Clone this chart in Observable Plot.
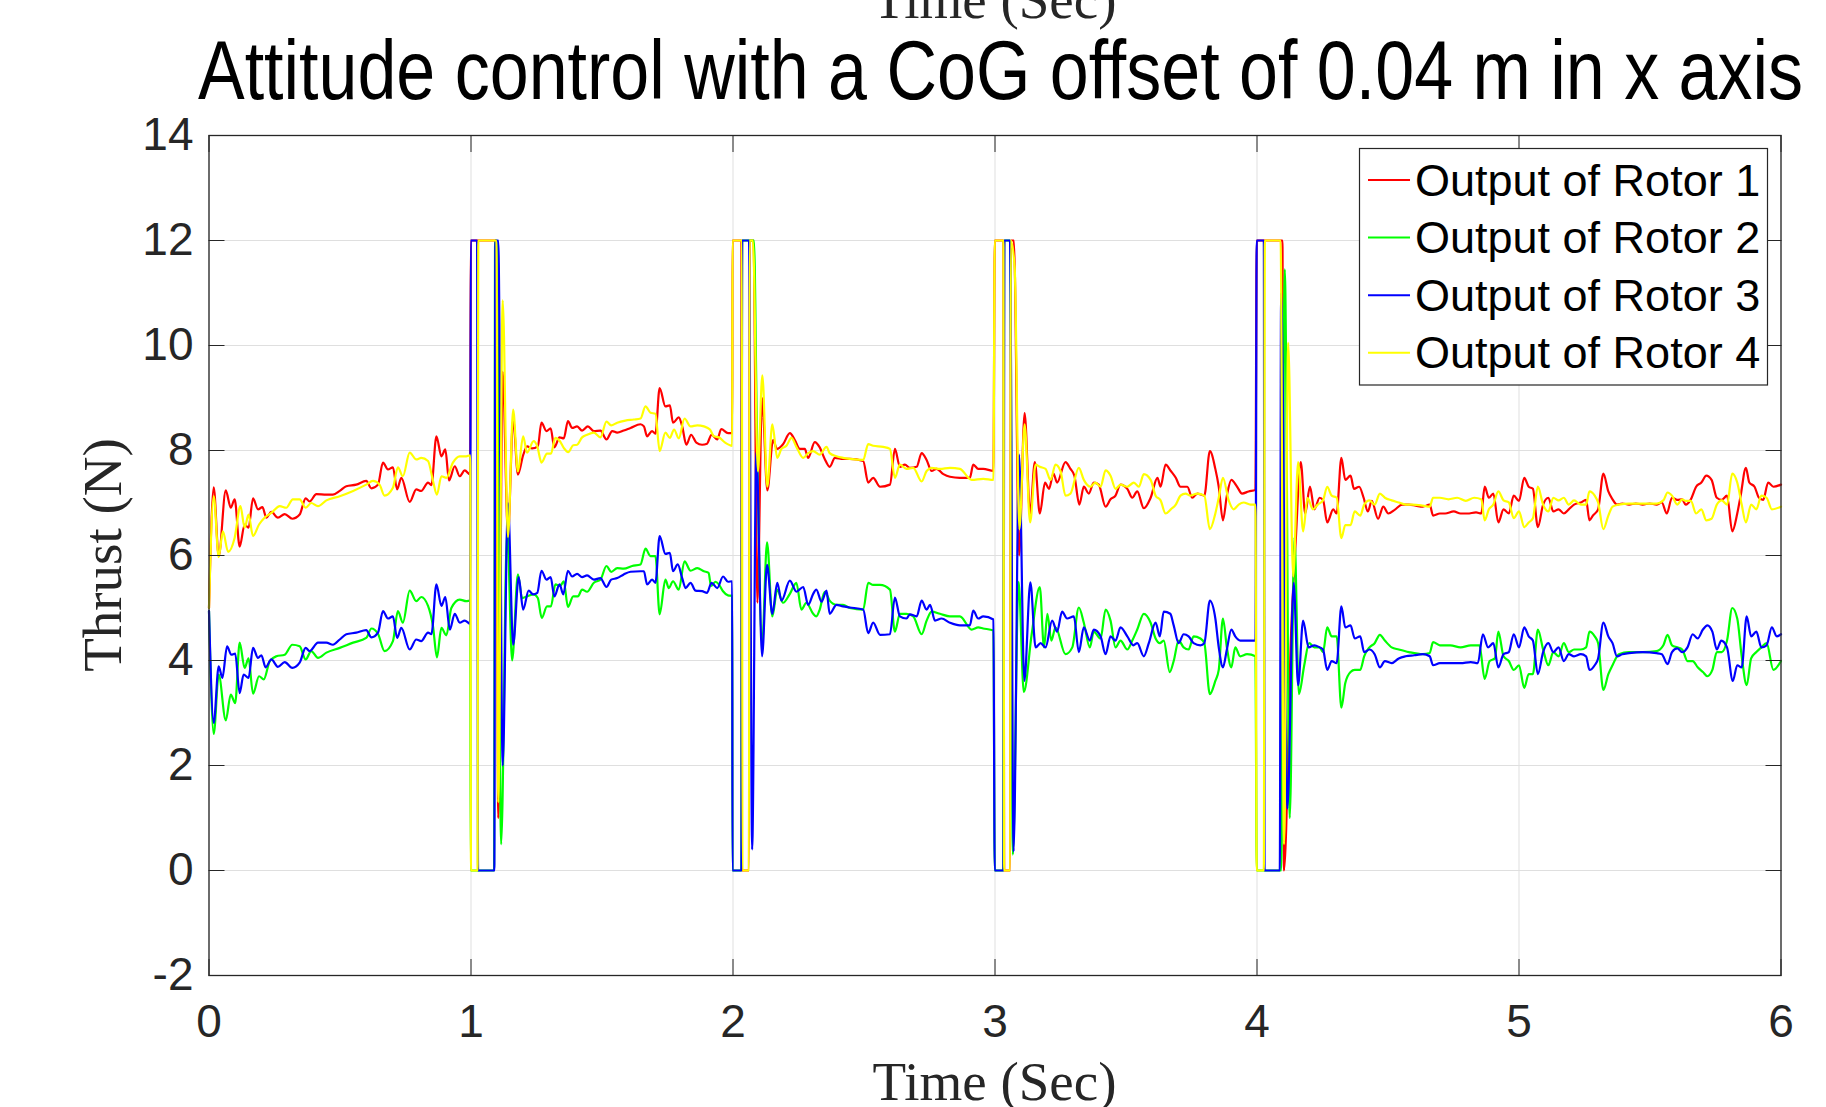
<!DOCTYPE html>
<html><head><meta charset="utf-8">
<script src="https://cdn.jsdelivr.net/npm/d3@7"></script>
<script src="https://cdn.jsdelivr.net/npm/@observablehq/plot@0.6"></script>
<style>
html,body{margin:0;padding:0;background:#fff;}
#chart svg{display:block;}
</style></head><body><div id="chart"></div>
<script>
// ---- Data (time in s, thrust in N) ----
const xTicks = [0, 1, 2, 3, 4, 5, 6];
const yTicks = [-2, 0, 2, 4, 6, 8, 10, 12, 14];
const seriesNames = ["Output of Rotor 1", "Output of Rotor 2", "Output of Rotor 3", "Output of Rotor 4"];
const seriesColors = ["#ff0000", "#00ff00", "#0000ff", "#ffff00"];

const rotor1 = [[0,5.0],[0.018,7.30],[0.037,5.99],[0.064,7.24],[0.083,6.91],[0.098,7.07],[0.117,6.17],[0.136,6.59],[0.151,6.53],[0.168,7.09],[0.187,6.88],[0.204,6.92],[0.219,6.72],[0.238,6.83],[0.263,6.72],[0.289,6.79],[0.318,6.70],[0.346,6.78],[0.369,7.09],[0.384,7.03],[0.41,7.17],[0.448,7.16],[0.473,7.16],[0.499,7.23],[0.524,7.32],[0.562,7.35],[0.6,7.42],[0.62,7.28],[0.645,7.35],[0.664,7.77],[0.683,7.64],[0.702,7.68],[0.718,7.26],[0.734,7.48],[0.766,7.02],[0.791,7.26],[0.81,7.23],[0.836,7.39],[0.849,7.34],[0.868,8.27],[0.887,7.89],[0.902,8.02],[0.916,7.43],[0.938,7.70],[0.957,7.51],[0.976,7.62],[0.997,7.54],
[0.999,12],[1.095,12],[1.104,1.0],[1.121,9.5],[1.141,6.4],[1.161,8.6],[1.179,7.54],[1.199,7.91],[1.214,8.08],[1.233,8.04],[1.255,8.08],[1.269,8.53],[1.288,8.37],[1.304,8.42],[1.318,8.06],[1.338,8.25],[1.354,8.23],[1.37,8.56],[1.386,8.43],[1.405,8.46],[1.424,8.38],[1.446,8.46],[1.469,8.37],[1.494,8.38],[1.517,8.21],[1.539,8.37],[1.558,8.34],[1.583,8.38],[1.609,8.43],[1.647,8.5],[1.66,8.46],[1.672,8.27],[1.691,8.37],[1.704,8.32],[1.72,9.19],[1.742,8.84],[1.759,8.86],[1.771,8.53],[1.793,8.63],[1.806,8.46],[1.822,8.11],[1.84,8.3],[1.86,8.15],[1.882,8.11],[1.901,8.13],[1.918,8.3],[1.94,8.21],[1.955,8.41],[1.981,8.33],[1.997,8.33],
[1.998,12],[2.032,12],[2.034,0],[2.061,0],[2.063,12],[2.078,12],[2.093,5.1],[2.111,9.0],[2.131,7.24],[2.153,8.2],[2.168,8.03],[2.191,8.12],[2.217,8.33],[2.236,8.2],[2.255,8.03],[2.274,8.03],[2.287,7.86],[2.312,8.16],[2.331,8.06],[2.35,7.84],[2.369,7.69],[2.389,7.86],[2.42,7.84],[2.446,7.84],[2.497,7.8],[2.516,7.39],[2.535,7.48],[2.561,7.31],[2.599,7.35],[2.618,8.03],[2.637,7.69],[2.656,7.73],[2.675,7.67],[2.701,7.69],[2.72,7.95],[2.739,7.82],[2.758,7.61],[2.777,7.65],[2.803,7.55],[2.828,7.5],[2.866,7.48],[2.904,7.48],[2.917,7.73],[2.936,7.65],[2.955,7.65],[2.994,7.61],
[2.999,12],[3.032,12],[3.035,0],[3.058,0],[3.06,12],[3.072,12],[3.092,6.0],[3.113,8.71],[3.134,6.8],[3.152,7.78],[3.171,6.8],[3.191,7.39],[3.206,7.27],[3.223,7.56],[3.237,7.39],[3.269,7.78],[3.288,7.65],[3.303,7.52],[3.322,6.97],[3.339,7.31],[3.358,7.18],[3.377,7.39],[3.396,7.35],[3.422,6.93],[3.441,7.07],[3.46,7.14],[3.479,7.35],[3.505,7.27],[3.524,7.10],[3.543,7.22],[3.568,6.9],[3.594,7.10],[3.62,7.48],[3.632,7.31],[3.651,7.73],[3.671,7.61],[3.69,7.48],[3.708,7.31],[3.734,7.31],[3.753,7.10],[3.772,7.18],[3.799,7.14],[3.82,7.99],[3.841,7.65],[3.854,7.31],[3.87,6.67],[3.885,7.14],[3.902,7.44],[3.924,7.31],[3.943,7.18],[3.968,7.22],[3.994,7.25],
[3.999,12],[4.097,12],[4.103,0],[4.13,4.5],[4.148,6.3],[4.167,7.78],[4.184,6.8],[4.202,7.31],[4.219,6.88],[4.239,7.1],[4.252,7.06],[4.268,6.63],[4.291,6.88],[4.304,6.8],[4.322,7.86],[4.337,7.44],[4.357,7.52],[4.37,7.27],[4.39,7.31],[4.407,7.10],[4.423,6.84],[4.438,7.04],[4.462,6.70],[4.482,6.93],[4.501,6.8],[4.528,6.88],[4.554,6.97],[4.58,6.97],[4.606,6.95],[4.633,6.93],[4.659,6.97],[4.672,6.76],[4.698,6.8],[4.718,6.8],[4.751,6.84],[4.777,6.8],[4.803,6.8],[4.836,6.82],[4.856,6.8],[4.869,7.31],[4.885,7.10],[4.902,7.18],[4.921,6.63],[4.941,6.88],[4.961,6.8],[4.98,7.14],[5.0,7.04],[5.02,7.48],[5.037,7.31],[5.053,7.27],[5.072,6.54],[5.092,6.97],[5.112,7.10],[5.131,6.84],[5.151,6.88],[5.171,6.8],[5.19,6.88],[5.21,6.97],[5.236,7.01],[5.256,7.06],[5.269,6.67],[5.282,6.76],[5.302,6.88],[5.322,7.56],[5.341,7.22],[5.357,7.07],[5.374,6.97],[5.394,6.99],[5.42,6.97],[5.446,6.99],[5.472,6.97],[5.499,6.99],[5.525,6.97],[5.545,7.01],[5.564,6.8],[5.584,7.10],[5.604,7.06],[5.623,7.07],[5.636,6.97],[5.656,7.07],[5.676,7.31],[5.696,7.39],[5.715,7.52],[5.735,7.44],[5.755,7.10],[5.774,7.06],[5.794,7.14],[5.814,6.46],[5.833,6.8],[5.846,7.14],[5.866,7.67],[5.879,7.39],[5.899,7.31],[5.916,7.10],[5.932,7.06],[5.951,7.39],[5.971,7.31],[6.0,7.35]];

const rotor2 = [[0,4.94],[0.018,2.60],[0.037,3.73],[0.064,2.86],[0.083,3.35],[0.10,3.19],[0.117,4.34],[0.136,3.86],[0.151,4.04],[0.168,3.37],[0.191,3.70],[0.209,3.64],[0.232,3.99],[0.257,4.08],[0.289,4.11],[0.318,4.30],[0.346,4.27],[0.369,4.02],[0.39,4.18],[0.416,4.05],[0.448,4.15],[0.499,4.24],[0.55,4.34],[0.6,4.43],[0.62,4.61],[0.645,4.51],[0.67,4.18],[0.702,4.37],[0.721,4.94],[0.74,4.72],[0.766,5.33],[0.791,5.13],[0.81,5.21],[0.836,5.04],[0.855,4.65],[0.87,4.06],[0.887,4.62],[0.906,4.48],[0.925,5.0],[0.957,5.16],[0.982,5.13],[0.997,5.14],
[0.999,0],[1.088,0],[1.092,12],[1.098,12],[1.115,0.5],[1.138,6.5],[1.157,4.0],[1.179,5.64],[1.195,5.19],[1.214,5.22],[1.239,5.26],[1.255,5.19],[1.27,4.81],[1.29,5.03],[1.305,5.03],[1.322,5.45],[1.341,5.42],[1.354,5.51],[1.37,5.02],[1.39,5.22],[1.408,5.22],[1.424,5.35],[1.443,5.31],[1.469,5.48],[1.494,5.54],[1.517,5.8],[1.535,5.69],[1.558,5.76],[1.583,5.75],[1.615,5.8],[1.647,5.83],[1.666,6.13],[1.685,5.99],[1.704,5.99],[1.72,4.88],[1.742,5.54],[1.755,5.38],[1.771,5.51],[1.793,5.35],[1.815,5.89],[1.838,5.71],[1.864,5.76],[1.889,5.7],[1.907,5.67],[1.916,5.42],[1.933,5.5],[1.946,5.45],[1.962,5.32],[1.981,5.24],[1.997,5.23],
[1.998,0],[2.032,0],[2.035,12],[2.08,12],[2.091,8.5],[2.111,4.3],[2.13,6.25],[2.15,4.84],[2.169,5.35],[2.191,5.1],[2.217,5.27],[2.242,5.48],[2.261,4.97],[2.28,5.1],[2.306,4.89],[2.318,4.84],[2.331,4.97],[2.35,5.31],[2.369,5.14],[2.395,5.06],[2.42,5.06],[2.446,5.0],[2.497,4.97],[2.516,5.48],[2.535,5.44],[2.561,5.44],[2.599,5.35],[2.618,4.55],[2.637,4.89],[2.662,4.89],[2.688,4.84],[2.72,4.5],[2.739,4.76],[2.758,4.93],[2.79,4.89],[2.828,4.84],[2.866,4.84],[2.911,4.59],[2.936,4.63],[2.955,4.61],[2.994,4.57],
[2.999,0],[3.032,0],[3.035,12],[3.058,12],[3.068,0.3],[3.09,5.5],[3.11,3.4],[3.14,4.5],[3.171,5.4],[3.187,4.25],[3.2,4.89],[3.215,4.38],[3.231,4.63],[3.269,4.12],[3.295,4.25],[3.32,5.01],[3.339,4.72],[3.362,4.25],[3.377,4.55],[3.403,4.42],[3.422,4.97],[3.441,4.76],[3.46,4.25],[3.479,4.38],[3.505,4.21],[3.524,4.38],[3.543,4.59],[3.568,4.89],[3.594,4.72],[3.613,4.42],[3.629,4.33],[3.644,4.38],[3.667,3.78],[3.682,3.99],[3.701,4.38],[3.72,4.25],[3.739,4.21],[3.758,4.46],[3.784,4.42],[3.799,4.33],[3.82,3.36],[3.841,3.61],[3.854,3.82],[3.87,4.8],[3.885,4.25],[3.902,3.87],[3.917,4.25],[3.936,4.08],[3.962,4.12],[3.994,4.08],
[3.999,0],[4.092,0],[4.106,11.45],[4.125,1.0],[4.143,6.35],[4.16,3.36],[4.18,3.9],[4.199,4.33],[4.219,4.25],[4.239,4.25],[4.252,4.16],[4.268,4.63],[4.285,4.46],[4.304,4.46],[4.322,3.10],[4.337,3.57],[4.357,3.78],[4.373,3.82],[4.394,3.82],[4.409,4.08],[4.429,4.25],[4.449,4.33],[4.469,4.49],[4.488,4.38],[4.514,4.25],[4.541,4.21],[4.58,4.16],[4.633,4.12],[4.659,4.14],[4.672,4.35],[4.698,4.29],[4.738,4.29],[4.777,4.25],[4.816,4.29],[4.849,4.29],[4.869,3.65],[4.888,3.99],[4.908,4.04],[4.921,4.55],[4.941,4.08],[4.961,3.99],[4.98,3.82],[5.0,3.91],[5.02,3.48],[5.037,3.74],[5.053,3.74],[5.072,4.59],[5.092,4.21],[5.112,3.91],[5.131,4.16],[5.151,4.08],[5.171,4.33],[5.19,4.16],[5.21,4.21],[5.236,4.21],[5.256,4.25],[5.269,4.55],[5.289,4.46],[5.302,4.33],[5.322,3.44],[5.341,3.74],[5.357,3.91],[5.381,4.12],[5.42,4.16],[5.472,4.16],[5.525,4.18],[5.551,4.29],[5.567,4.49],[5.584,4.29],[5.604,4.25],[5.623,4.21],[5.643,3.99],[5.663,3.99],[5.682,3.87],[5.702,3.78],[5.719,3.7],[5.738,3.82],[5.755,4.16],[5.774,4.16],[5.794,4.38],[5.814,5.0],[5.833,4.8],[5.85,4.08],[5.869,3.53],[5.886,4.04],[5.906,4.16],[5.925,4.25],[5.945,4.33],[5.971,3.82],[6.0,3.99]];

const rotor3 = [[0,4.94],[0.018,2.81],[0.037,3.89],[0.051,3.67],[0.069,4.27],[0.085,4.11],[0.10,4.13],[0.117,3.38],[0.132,3.73],[0.151,3.67],[0.168,4.24],[0.187,4.05],[0.20,4.10],[0.216,3.87],[0.238,4.02],[0.263,3.88],[0.289,3.97],[0.318,3.86],[0.346,3.96],[0.369,4.24],[0.384,4.18],[0.416,4.34],[0.448,4.34],[0.473,4.30],[0.499,4.4],[0.524,4.5],[0.562,4.53],[0.6,4.58],[0.62,4.44],[0.645,4.53],[0.664,4.94],[0.683,4.8],[0.702,4.84],[0.718,4.43],[0.734,4.62],[0.766,4.21],[0.791,4.40],[0.81,4.37],[0.836,4.53],[0.849,4.5],[0.868,5.45],[0.887,5.04],[0.902,5.21],[0.919,4.59],[0.938,4.89],[0.957,4.72],[0.976,4.76],[0.997,4.70],
[0.999,12],[1.023,12],[1.027,0],[1.089,0],[1.093,12],[1.104,12],[1.121,2.0],[1.141,7.0],[1.161,4.3],[1.182,5.59],[1.199,4.97],[1.22,5.33],[1.237,5.26],[1.253,5.29],[1.269,5.71],[1.288,5.54],[1.304,5.59],[1.318,5.22],[1.338,5.45],[1.352,5.26],[1.37,5.71],[1.386,5.6],[1.405,5.65],[1.424,5.59],[1.443,5.62],[1.469,5.54],[1.494,5.57],[1.517,5.4],[1.535,5.54],[1.558,5.57],[1.583,5.64],[1.609,5.69],[1.647,5.7],[1.66,5.7],[1.672,5.45],[1.691,5.54],[1.704,5.48],[1.72,6.37],[1.742,6.03],[1.759,6.05],[1.771,5.7],[1.789,5.83],[1.806,5.57],[1.819,5.38],[1.838,5.48],[1.857,5.33],[1.882,5.32],[1.901,5.29],[1.918,5.48],[1.94,5.38],[1.962,5.6],[1.981,5.5],[1.997,5.51],
[1.998,0],[2.032,0],[2.035,12],[2.061,12],[2.073,0.4],[2.089,7.96],[2.111,4.08],[2.13,5.82],[2.15,4.89],[2.169,5.48],[2.185,5.14],[2.217,5.52],[2.242,5.31],[2.268,5.4],[2.287,5.06],[2.306,5.27],[2.318,5.35],[2.338,5.12],[2.357,5.33],[2.369,4.89],[2.395,5.06],[2.42,5.03],[2.446,5.01],[2.497,4.97],[2.516,4.52],[2.535,4.72],[2.561,4.49],[2.599,4.5],[2.618,5.2],[2.637,4.84],[2.662,4.8],[2.675,4.88],[2.701,4.84],[2.72,5.14],[2.739,4.97],[2.752,5.06],[2.771,4.76],[2.796,4.8],[2.828,4.72],[2.866,4.67],[2.904,4.67],[2.917,4.95],[2.936,4.8],[2.955,4.84],[2.994,4.78],
[2.999,0],[3.032,0],[3.036,12],[3.057,12],[3.071,0.36],[3.092,7.92],[3.112,3.61],[3.135,5.49],[3.155,4.25],[3.174,4.33],[3.193,4.25],[3.218,4.76],[3.237,4.55],[3.256,4.93],[3.275,4.8],[3.301,4.84],[3.32,4.16],[3.339,4.63],[3.362,4.38],[3.377,4.59],[3.403,4.46],[3.422,4.12],[3.441,4.46],[3.46,4.38],[3.479,4.63],[3.505,4.46],[3.528,4.29],[3.543,4.33],[3.568,4.08],[3.587,4.33],[3.613,4.72],[3.629,4.46],[3.644,4.93],[3.669,4.89],[3.682,4.67],[3.701,4.33],[3.72,4.50],[3.739,4.46],[3.758,4.33],[3.784,4.29],[3.799,4.33],[3.82,5.14],[3.841,4.80],[3.854,4.25],[3.87,3.87],[3.885,4.21],[3.902,4.59],[3.917,4.46],[3.936,4.38],[3.962,4.38],[3.994,4.38],
[3.999,12],[4.026,12],[4.029,0],[4.087,0],[4.092,11.0],[4.116,1.18],[4.14,5.48],[4.157,3.53],[4.176,4.76],[4.197,4.25],[4.219,4.29],[4.239,4.25],[4.252,4.21],[4.268,3.82],[4.285,3.99],[4.304,3.95],[4.322,5.03],[4.337,4.63],[4.357,4.67],[4.373,4.42],[4.394,4.46],[4.409,4.16],[4.429,4.21],[4.449,4.12],[4.469,3.87],[4.488,3.99],[4.514,3.95],[4.541,4.04],[4.567,4.08],[4.6,4.1],[4.633,4.12],[4.659,4.08],[4.672,3.91],[4.698,3.95],[4.738,3.95],[4.777,3.95],[4.816,3.97],[4.843,3.95],[4.862,4.5],[4.882,4.25],[4.902,4.33],[4.921,3.87],[4.941,4.12],[4.961,4.16],[4.98,4.5],[5.0,4.25],[5.02,4.63],[5.037,4.46],[5.053,4.38],[5.072,3.74],[5.092,4.16],[5.112,4.33],[5.131,4.16],[5.151,4.25],[5.171,3.99],[5.19,4.12],[5.21,4.08],[5.236,4.12],[5.256,4.08],[5.269,3.82],[5.289,3.91],[5.302,4.04],[5.322,4.72],[5.341,4.46],[5.357,4.33],[5.374,4.08],[5.394,4.12],[5.42,4.14],[5.472,4.16],[5.525,4.14],[5.545,4.12],[5.567,3.93],[5.584,4.16],[5.604,4.23],[5.623,4.16],[5.643,4.25],[5.663,4.5],[5.682,4.42],[5.702,4.59],[5.719,4.67],[5.738,4.55],[5.755,4.21],[5.772,4.38],[5.794,4.25],[5.816,3.61],[5.833,3.91],[5.85,3.87],[5.869,4.84],[5.886,4.46],[5.906,4.55],[5.925,4.25],[5.945,4.29],[5.965,4.63],[5.984,4.46],[6.0,4.5]];

const rotor4 = [[0,5.0],[0.018,7.13],[0.037,5.97],[0.053,6.46],[0.073,6.07],[0.098,6.34],[0.12,6.94],[0.136,6.53],[0.151,6.78],[0.168,6.37],[0.191,6.59],[0.212,6.72],[0.238,6.81],[0.27,6.94],[0.295,6.91],[0.32,7.07],[0.346,7.07],[0.369,6.91],[0.39,7.0],[0.416,6.94],[0.448,7.05],[0.499,7.13],[0.55,7.23],[0.6,7.35],[0.626,7.42],[0.651,7.35],[0.67,7.14],[0.702,7.29],[0.721,7.68],[0.74,7.51],[0.766,7.96],[0.791,7.83],[0.81,7.86],[0.836,7.8],[0.855,7.42],[0.87,7.16],[0.887,7.51],[0.906,7.48],[0.931,7.77],[0.957,7.89],[0.982,7.89],[0.997,7.91],
[1.000,0],[1.025,0],[1.028,12],[1.097,12],[1.104,1.3],[1.121,10.86],[1.141,6.35],[1.161,8.78],[1.179,7.6],[1.199,8.27],[1.214,7.96],[1.239,8.18],[1.253,8.08],[1.269,7.77],[1.29,7.94],[1.305,7.94],[1.322,8.24],[1.339,8.18],[1.354,8.05],[1.371,7.97],[1.39,8.1],[1.405,8.11],[1.424,8.25],[1.443,8.3],[1.469,8.34],[1.494,8.25],[1.517,8.55],[1.535,8.48],[1.558,8.53],[1.589,8.57],[1.621,8.59],[1.647,8.61],[1.666,8.84],[1.685,8.72],[1.704,8.7],[1.72,7.99],[1.742,8.34],[1.759,8.24],[1.775,8.4],[1.793,8.23],[1.815,8.61],[1.838,8.46],[1.864,8.48],[1.889,8.46],[1.912,8.4],[1.927,8.27],[1.946,8.25],[1.97,8.15],[1.997,8.09],
[1.998,12],[2.034,12],[2.036,0],[2.061,0],[2.063,12],[2.076,12],[2.095,7.6],[2.112,9.43],[2.131,7.31],[2.15,8.5],[2.169,7.86],[2.185,8.03],[2.204,8.09],[2.223,8.24],[2.242,8.07],[2.268,7.86],[2.287,7.95],[2.306,7.99],[2.331,7.92],[2.357,8.07],[2.369,7.95],[2.395,7.89],[2.42,7.86],[2.446,7.84],[2.497,7.82],[2.516,8.12],[2.535,8.09],[2.573,8.07],[2.599,8.03],[2.618,7.48],[2.637,7.73],[2.662,7.65],[2.688,7.67],[2.72,7.41],[2.739,7.61],[2.758,7.67],[2.79,7.65],[2.828,7.67],[2.866,7.65],[2.911,7.44],[2.955,7.46],[2.994,7.44],
[2.999,12],[3.032,12],[3.035,0],[3.058,0],[3.06,12],[3.075,11.5],[3.093,6.5],[3.113,8.5],[3.134,6.63],[3.155,7.73],[3.171,7.69],[3.193,7.65],[3.212,7.44],[3.231,7.73],[3.25,7.61],[3.269,7.14],[3.288,7.18],[3.32,7.67],[3.339,7.44],[3.364,7.31],[3.383,7.39],[3.403,7.31],[3.422,7.62],[3.441,7.52],[3.46,7.27],[3.479,7.35],[3.505,7.31],[3.53,7.39],[3.549,7.31],[3.568,7.55],[3.594,7.44],[3.613,7.14],[3.632,7.05],[3.651,6.8],[3.671,6.88],[3.69,6.97],[3.708,7.14],[3.727,7.18],[3.746,7.14],[3.772,7.18],[3.799,7.14],[3.82,6.5],[3.841,6.8],[3.854,7.10],[3.87,7.48],[3.892,7.05],[3.911,6.88],[3.93,6.97],[3.949,7.01],[3.975,6.97],[3.994,6.97],
[3.999,0],[4.026,0],[4.03,12],[4.09,12],[4.103,0.5],[4.119,10.05],[4.138,5.6],[4.157,7.78],[4.176,6.46],[4.193,7.10],[4.213,6.88],[4.232,6.97],[4.252,7.05],[4.268,7.31],[4.285,7.14],[4.304,7.10],[4.322,6.33],[4.337,6.58],[4.357,6.58],[4.373,6.84],[4.394,6.76],[4.409,6.97],[4.429,7.05],[4.449,6.97],[4.469,7.18],[4.488,7.10],[4.514,7.05],[4.541,7.01],[4.567,6.97],[4.593,6.97],[4.633,6.95],[4.659,6.93],[4.672,7.10],[4.698,7.10],[4.731,7.07],[4.764,7.10],[4.797,7.04],[4.829,7.10],[4.856,7.07],[4.869,6.67],[4.885,6.88],[4.902,6.97],[4.921,7.22],[4.941,7.05],[4.961,7.01],[4.98,6.71],[5.0,6.84],[5.02,6.54],[5.037,6.63],[5.053,6.71],[5.072,7.31],[5.092,6.97],[5.112,6.84],[5.131,7.10],[5.151,7.05],[5.171,7.10],[5.19,6.97],[5.21,7.05],[5.236,6.97],[5.256,6.97],[5.269,7.22],[5.289,7.14],[5.302,7.01],[5.322,6.5],[5.341,6.76],[5.357,6.93],[5.381,6.97],[5.42,6.99],[5.472,6.99],[5.525,6.99],[5.551,7.05],[5.567,7.2],[5.584,7.14],[5.604,6.97],[5.623,7.07],[5.636,7.04],[5.656,7.04],[5.676,6.8],[5.696,6.88],[5.715,6.67],[5.735,6.70],[5.755,6.97],[5.774,7.05],[5.794,6.97],[5.814,7.56],[5.833,7.39],[5.85,6.97],[5.866,6.63],[5.886,6.97],[5.906,6.88],[5.925,7.14],[5.945,7.10],[5.965,6.88],[6.0,6.93]];

const titleText = "Attitude control with a CoG offset of 0.04 m in x axis";
const xLabelText = "Time (Sec)";
const yLabelText = "Thrust (N)";

// ---- Chart ----
const W = 1826, H = 1107;
const M = {left: 208.5, right: 45.5, top: 135, bottom: 132};
const allSeries = [rotor1, rotor2, rotor3, rotor4];
const tickCol = "#262626";

const plot = Plot.plot({
  width: W, height: H,
  marginLeft: M.left, marginRight: M.right, marginTop: M.top, marginBottom: M.bottom,
  style: {background: "#fff", fontFamily: "'Liberation Sans', Arial, Helvetica, sans-serif", fontSize: "46px", color: tickCol, overflow: "visible"},
  x: {domain: [xTicks[0], xTicks[xTicks.length - 1]]},
  y: {domain: [yTicks[0], yTicks[yTicks.length - 1]]},
  marks: [
    Plot.gridX(xTicks, {stroke: "#dfdfdf", strokeOpacity: 1, strokeWidth: 1}),
    Plot.gridY(yTicks, {stroke: "#dfdfdf", strokeOpacity: 1, strokeWidth: 1}),
    ...allSeries.map((s, k) => Plot.line(s, {x: d => d[0], y: d => d[1], stroke: seriesColors[k], strokeWidth: 2.2, curve: "monotone-x", strokeLinejoin: "round"})),
    Plot.frame({stroke: tickCol, strokeWidth: 1.3}),
    Plot.axisX(xTicks, {anchor: "bottom", tickSize: -16, tickPadding: 45, tickFormat: d => String(d), label: null, stroke: tickCol, fill: tickCol}),
    Plot.axisX(xTicks, {anchor: "top", tickSize: -16, fill: "none", label: null, stroke: tickCol}),
    Plot.axisY(yTicks, {anchor: "left", tickSize: -16, tickPadding: 31.5, tickFormat: d => String(d), label: null, stroke: tickCol, fill: tickCol}),
    Plot.axisY(yTicks, {anchor: "right", tickSize: -16, fill: "none", label: null, stroke: tickCol})
  ]
});

const svg = d3.select(plot);
const cx = M.left + (W - M.left - M.right) / 2;
// cut-off x label at top
svg.append("text").attr("x", cx).attr("y", 18).attr("text-anchor", "middle")
  .attr("font-family", "'Liberation Serif', 'Times New Roman', serif").attr("font-size", 55).attr("fill", tickCol).text(xLabelText);
// title
svg.append("text").attr("x", 198).attr("y", 99).attr("text-anchor", "start")
  .attr("font-family", "'Liberation Sans', Arial, sans-serif").attr("font-size", 84).attr("fill", "#000")
  .attr("textLength", 1605).attr("lengthAdjust", "spacingAndGlyphs").text(titleText);
// x label
svg.append("text").attr("x", cx).attr("y", 1100).attr("text-anchor", "middle")
  .attr("font-family", "'Liberation Serif', 'Times New Roman', serif").attr("font-size", 55).attr("fill", tickCol).text(xLabelText);
// y label
const cy = M.top + (H - M.top - M.bottom) / 2;
svg.append("text").attr("transform", `translate(121,${cy}) rotate(-90)`).attr("text-anchor", "middle")
  .attr("font-family", "'Liberation Serif', 'Times New Roman', serif").attr("font-size", 55).attr("fill", tickCol).text(yLabelText);

// legend
const lg = svg.append("g").attr("font-family", "'Liberation Sans', Arial, sans-serif").attr("font-size", 45).attr("text-anchor", "start");
lg.append("rect").attr("x", 1359.5).attr("y", 148.5).attr("width", 408).attr("height", 236.5)
  .attr("fill", "#fff").attr("stroke", tickCol).attr("stroke-width", 1.2);
seriesNames.forEach((n, k) => {
  const y = 180 + k * 57.6;
  lg.append("line").attr("x1", 1368).attr("x2", 1410).attr("y1", y).attr("y2", y).attr("stroke", seriesColors[k]).attr("stroke-width", 2);
  lg.append("text").attr("x", 1415).attr("y", y + 15.5).attr("text-anchor", "start").attr("fill", "#000").text(n);
});

document.getElementById("chart").appendChild(plot);
</script></body></html>
